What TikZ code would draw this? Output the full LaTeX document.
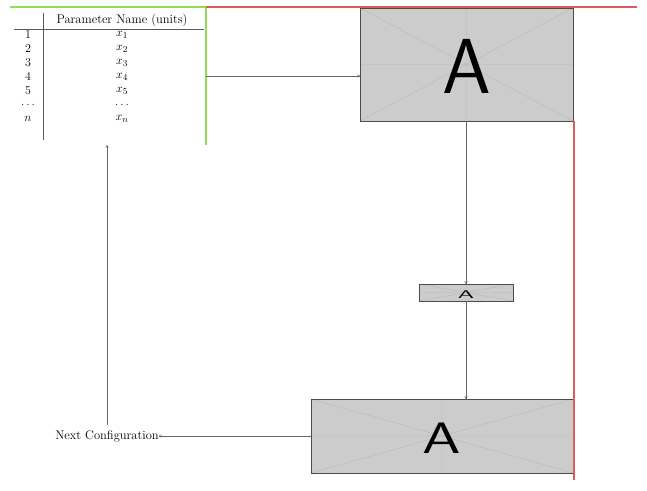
\documentclass[tikz,border=0pt]{standalone}
\usetikzlibrary{arrows.meta}
\definecolor{lgreen}{RGB}{140,225,80}
\definecolor{lred}{RGB}{225,90,90}
\begin{document}
\begin{tikzpicture}[x=1pt,y=-1pt,
  conn/.style={draw=gray!80!black,line width=0.5pt,-{To[length=3pt,width=3pt]}},
  txt/.style={inner sep=0pt,font=\fontsize{12.5}{14}\selectfont},
  tab/.style={inner sep=0pt,font=\fontsize{12.5}{14}\selectfont}]
\useasboundingbox (0,0) rectangle (647,490);
\newcommand{\placeholder}[5]{%
  \fill[gray!40] (#1,#2) rectangle (#3,#4);
  \draw[gray!55,line width=0.4pt] (#1,#2) -- (#3,#4) (#1,#4) -- (#3,#2)
    ({(#1+#3)/2},#2) -- ({(#1+#3)/2},#4) (#1,{(#2+#4)/2}) -- (#3,{(#2+#4)/2});
  \draw[gray!60!black,line width=0.6pt] (#1,#2) rectangle (#3,#4);
  \node[inner sep=0pt] at ({(#1+#3)/2},{(#2+#4)/2+2}) {#5};}
% images
\placeholder{360}{8}{573}{121}{\fontsize{78}{78}\sffamily A}
\placeholder{419}{284}{513}{301}{\scalebox{1.8}[0.8]{\fontsize{14}{14}\sffamily A}}
\placeholder{311}{399}{573}{473}{\scalebox{1.4}[1]{\fontsize{44}{44}\sffamily A}}
\coordinate (a1l) at (360,76); \coordinate (a1b) at (466,121);
\coordinate (a2t) at (466,284); \coordinate (a2b) at (466,301);
\coordinate (a3t) at (466,399); \coordinate (a3l) at (311,436);
% borders
\draw[lgreen,line width=1.3pt] (10,7) -- (206,7) -- (206,145);
\draw[lred,line width=1.3pt] (206,7) -- (637,7);
\draw[lred,line width=1.3pt] (574,121) -- (574,480);
\coordinate (gr) at (206,76);
% table
\node[tab] (hdr) at (122,20) {Parameter Name (units)};
\draw[gray!70!black,line width=0.8pt] (14,29) -- (204,29);
\draw[gray!70!black,line width=0.6pt] (43,13) -- (43,140);
\foreach \n/\v [count=\i] in {1/x_1,2/x_2,3/x_3,4/x_4,5/x_5,{\dots}/{\dots},n/x_n}{
  \node[tab] (r\i) at (28,{21+14*\i}) {$\n$};
  \node[tab] (v\i) at (122,{21+14*\i}) {$\v$};}
\node[txt] (next) at (107,436) {Next Configuration};
\coordinate (nu) at (107,425);
\coordinate (tb) at (107,145);
% arrows
\draw[conn] (gr) -- (a1l);
\draw[conn] (a1b) -- (a2t);
\draw[conn] (a2b) -- (a3t);
\draw[conn] (a3l) -- (next.east);
\draw[conn] (nu) -- (tb);
\end{tikzpicture}
\end{document}
